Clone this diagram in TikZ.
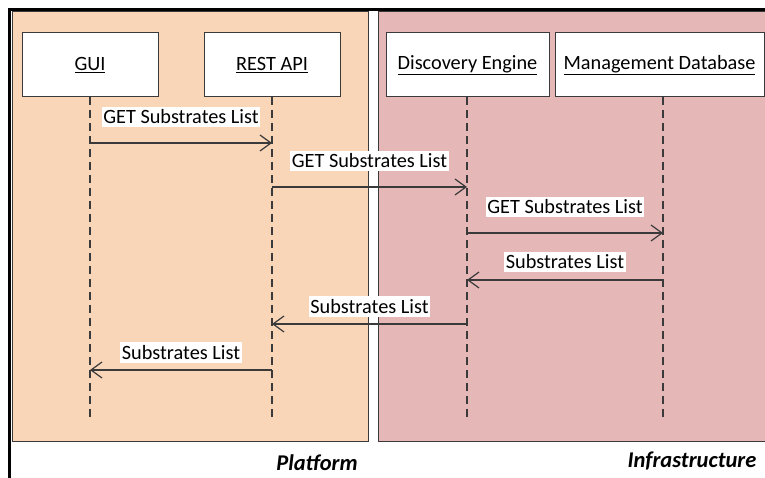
\documentclass[tikz,border=0pt]{standalone}
\usepackage{fontspec}
\setmainfont{Carlito}
\usetikzlibrary{arrows.meta}
\definecolor{platfill}{HTML}{FAD6B9}
\definecolor{infrafill}{HTML}{E5B8B7}
\definecolor{edge}{HTML}{3A3A3A}
\begin{document}
\begin{tikzpicture}[x=1pt,y=-1pt,
  actor/.style={draw=edge, line width=1pt, fill=white, minimum height=64pt, inner sep=0pt, font=\fontsize{20.3}{24}\selectfont},
  lifeline/.style={draw=edge, line width=1.2pt, dash pattern=on 8pt off 5pt},
  msgarrow/.style={draw=edge, line width=1.2pt, -{Straight Barb[length=11pt,width=16pt,line width=1.2pt]}},
  msg/.style={fill=white, inner xsep=1.5pt, inner ysep=3pt, font=\fontsize{20.3}{24}\selectfont},
  zone/.style={draw=edge, line width=1pt},
  zonelabel/.style={font=\fontsize{22.5}{26}\selectfont\bfseries\itshape}]
\useasboundingbox (0,0) rectangle (765,478);
\fill[white] (0,0) rectangle (765,478);
% outer frame
\draw[line width=3pt] (9.5,490) -- (9.5,9.5) -- (790,9.5);
% zones
\filldraw[zone, fill=platfill] (12,12) rectangle (368,441);
\filldraw[zone, fill=infrafill] (378,12) rectangle (800,441);
% actors
\node[actor, minimum width=136pt] (gui) at (90,65) {\underline{GUI}};
\node[actor, minimum width=136pt] (rest) at (272,65) {\underline{REST API}};
\node[actor, minimum width=163pt] (de) at (467.5,65) {\underline{Discovery Engine}};
\node[actor, minimum width=209pt] (md) at (659.5,65) {\underline{Management Database}};
% lifelines
\coordinate (guiT) at (90,97);   \coordinate (guiB) at (90,420);
\coordinate (restT) at (272,97); \coordinate (restB) at (272,420);
\coordinate (deT) at (467,97);   \coordinate (deB) at (467,420);
\coordinate (mdT) at (663,97);   \coordinate (mdB) at (663,420);
\draw[lifeline] (guiT) -- (guiB);
\draw[lifeline] (restT) -- (restB);
\draw[lifeline] (deT) -- (deB);
\draw[lifeline] (mdT) -- (mdB);
% message heights
\coordinate (y1) at (0,143);
\coordinate (y2) at (0,187);
\coordinate (y3) at (0,233);
\coordinate (y4) at (0,280);
\coordinate (y5) at (0,324);
\coordinate (y6) at (0,370);
% messages
\draw[msgarrow] (guiT |- y1) -- (restT |- y1) node[midway, yshift=26pt, msg] (m1) {GET Substrates List};
\draw[msgarrow] (restT |- y2) -- (deT |- y2) node[midway, yshift=26pt, msg] (m2) {GET Substrates List};
\draw[msgarrow] (deT |- y3) -- (mdT |- y3) node[midway, yshift=26pt, msg] (m3) {GET Substrates List};
\draw[msgarrow] (mdT |- y4) -- (deT |- y4) node[midway, yshift=18pt, msg] (m4) {Substrates List};
\draw[msgarrow] (deT |- y5) -- (restT |- y5) node[midway, yshift=17.5pt, msg] (m5) {Substrates List};
\draw[msgarrow] (restT |- y6) -- (guiT |- y6) node[midway, yshift=17.5pt, msg] (m6) {Substrates List};
% zone labels
\node[zonelabel] (platlabel) at (317,463) {Platform};
\node[zonelabel] (infralabel) at (692,461) {Infrastructure};
\end{tikzpicture}
\end{document}
